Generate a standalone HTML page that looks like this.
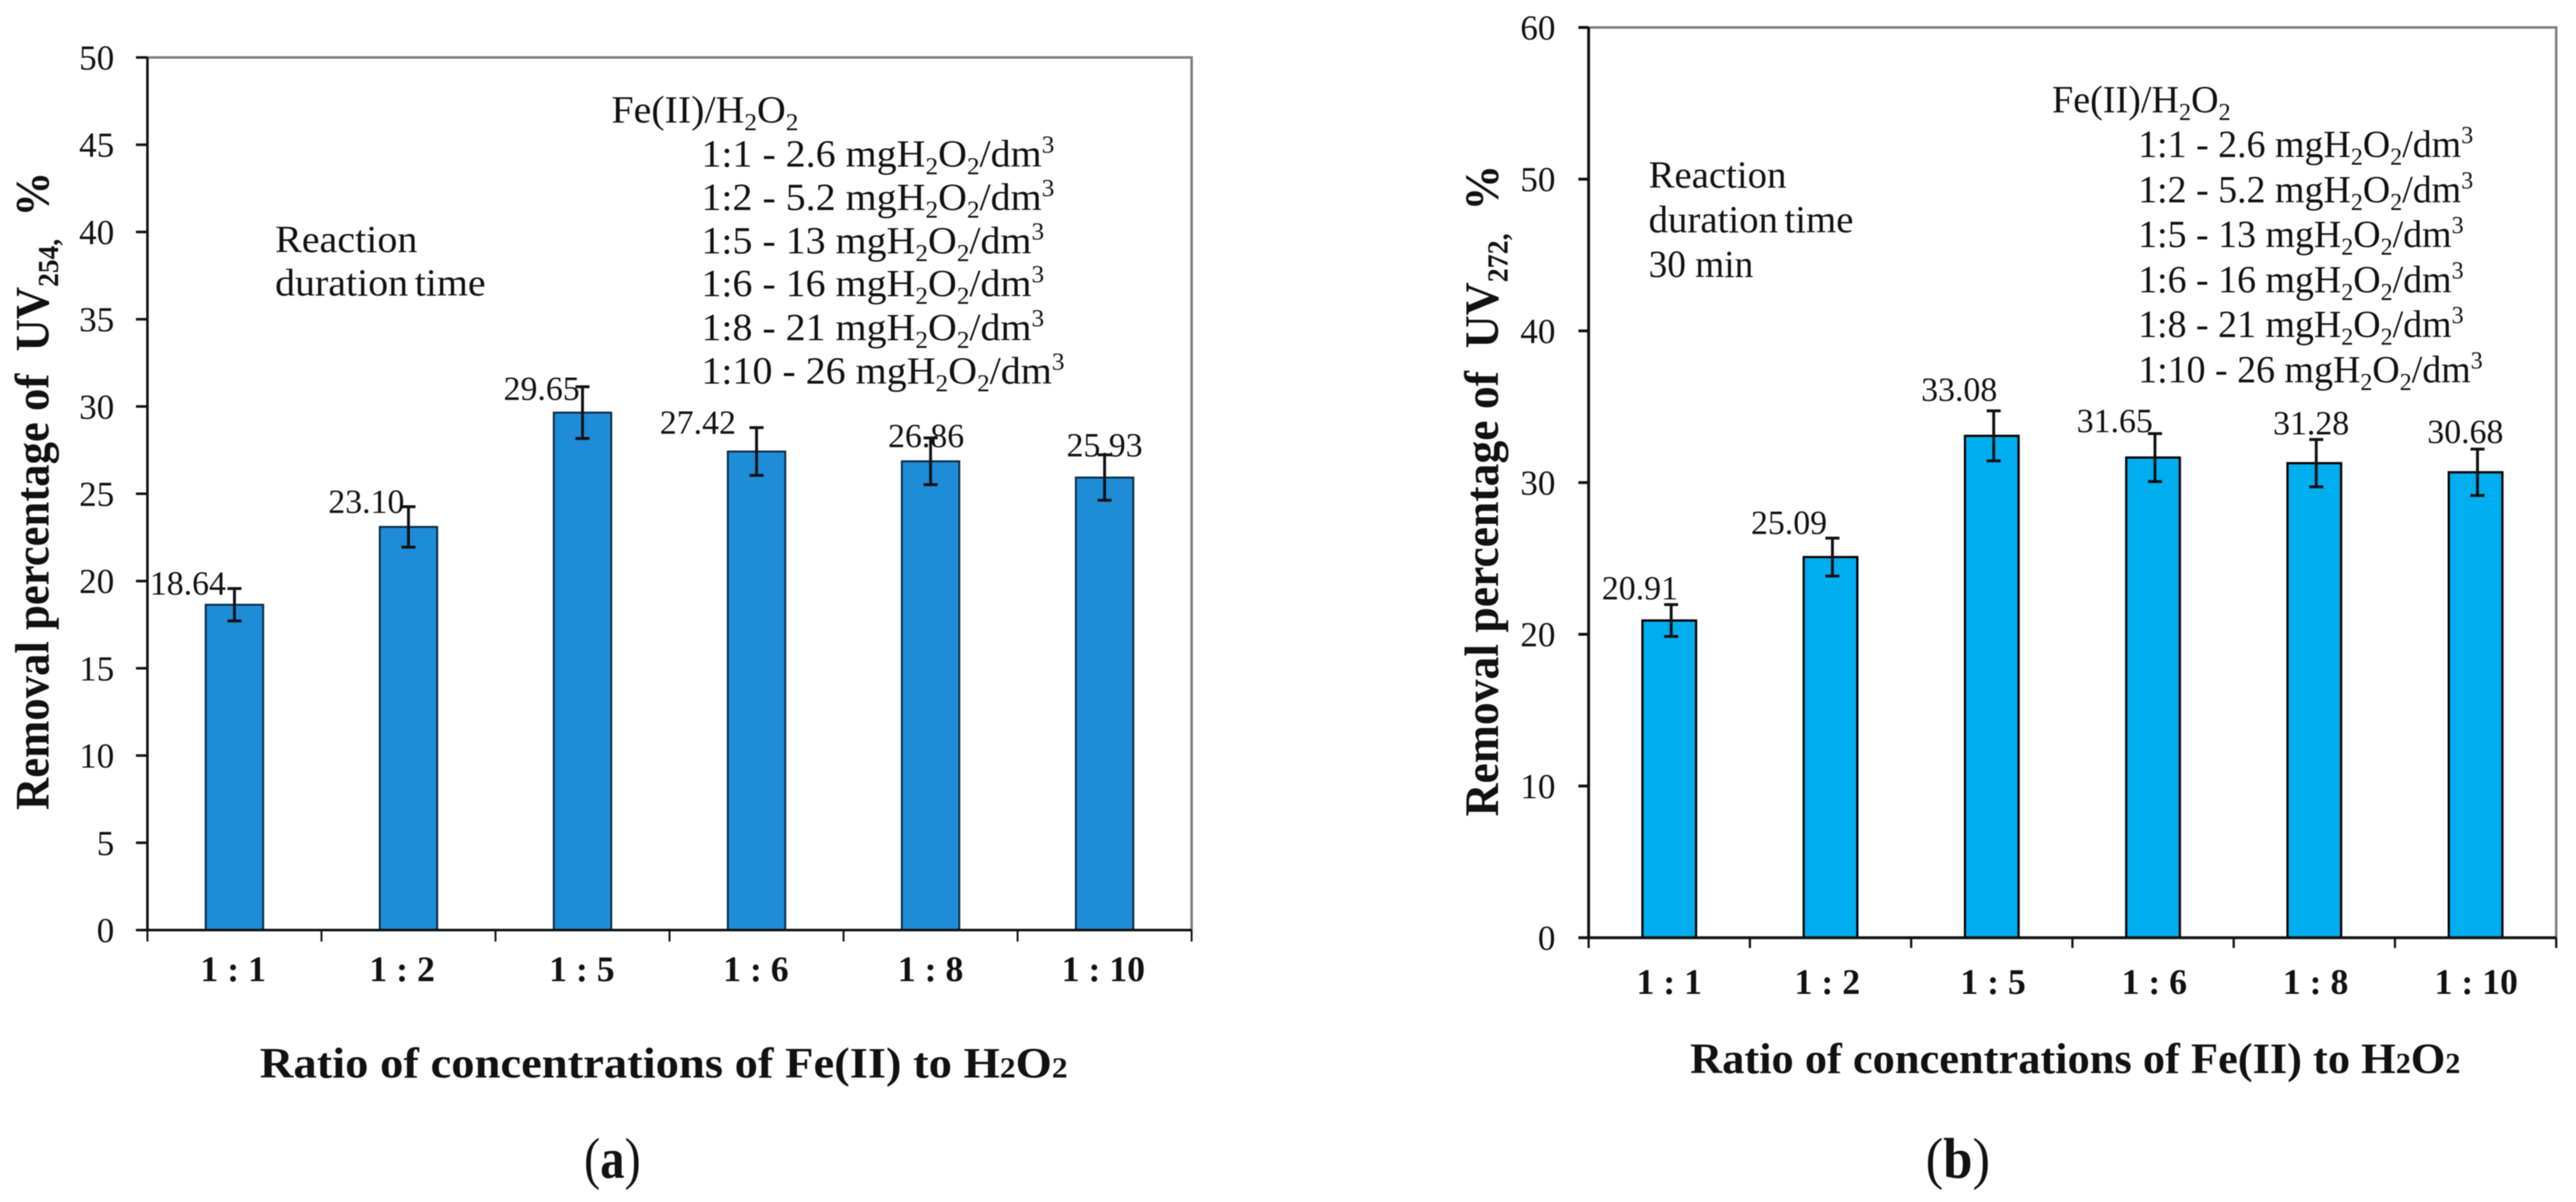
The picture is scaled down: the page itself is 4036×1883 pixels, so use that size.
<!DOCTYPE html>
<html lang="en">
<head>
<meta charset="utf-8">
<title>Removal percentage of UV254 and UV272</title>
<style>
  html, body { margin: 0; padding: 0; background: #fff; width: 4036px; height: 1883px; overflow: hidden; }
  svg { display: block; font-family: "Liberation Serif", "Times New Roman", serif; fill: #111; filter: blur(0.7px); }
  .bold { font-weight: bold; }
  .legend { font-size: 60px; }
  .narrow-space { word-spacing: -5px; }
</style>
</head>
<body>
<svg id="figure" xmlns="http://www.w3.org/2000/svg" width="4036" height="1883" viewBox="0 0 4036 1883">
  <g id="panel-a"></g>
  <g id="panel-b"></g>

  <!-- Panel a static text -->
  <g transform="translate(76 1269) rotate(-90)">
    <text class="bold fit" font-size="75" x="0" y="0" data-w="1000" xml:space="preserve">Removal percentage of  UV<tspan font-size="46" dy="15">254,</tspan><tspan dy="-15">  %</tspan></text>
  </g>
  <text class="bold fit" font-size="68" x="407" y="1688" data-w="1266">Ratio of concentrations of Fe(II) to H<tspan font-size="46">2</tspan>O<tspan font-size="46">2</tspan></text>
  <text class="fit" font-size="90" x="915" y="1845" data-w="89">(<tspan class="bold">a</tspan>)</text>

  <g>
    <text class="legend fit" x="431" y="395" data-w="223">Reaction</text>
    <text class="legend fit narrow-space" x="431" y="463" data-w="330">duration time</text>
  </g>
  <g>
    <text class="legend fit" x="958" y="192" data-w="293">Fe(II)/H<tspan font-size="38" dy="12">2</tspan><tspan dy="-12">O</tspan><tspan font-size="38" dy="12">2</tspan></text>
    <text class="legend fit" x="1099" y="261" data-w="553">1:1 - 2.6 mgH<tspan font-size="38" dy="12">2</tspan><tspan dy="-12">O</tspan><tspan font-size="38" dy="12">2</tspan><tspan dy="-12">/dm</tspan><tspan font-size="38" dy="-22">3</tspan></text>
    <text class="legend fit" x="1099" y="329" data-w="553">1:2 - 5.2 mgH<tspan font-size="38" dy="12">2</tspan><tspan dy="-12">O</tspan><tspan font-size="38" dy="12">2</tspan><tspan dy="-12">/dm</tspan><tspan font-size="38" dy="-22">3</tspan></text>
    <text class="legend fit" x="1099" y="397" data-w="537">1:5 - 13 mgH<tspan font-size="38" dy="12">2</tspan><tspan dy="-12">O</tspan><tspan font-size="38" dy="12">2</tspan><tspan dy="-12">/dm</tspan><tspan font-size="38" dy="-22">3</tspan></text>
    <text class="legend fit" x="1099" y="464" data-w="537">1:6 - 16 mgH<tspan font-size="38" dy="12">2</tspan><tspan dy="-12">O</tspan><tspan font-size="38" dy="12">2</tspan><tspan dy="-12">/dm</tspan><tspan font-size="38" dy="-22">3</tspan></text>
    <text class="legend fit" x="1099" y="533" data-w="537">1:8 - 21 mgH<tspan font-size="38" dy="12">2</tspan><tspan dy="-12">O</tspan><tspan font-size="38" dy="12">2</tspan><tspan dy="-12">/dm</tspan><tspan font-size="38" dy="-22">3</tspan></text>
    <text class="legend fit" x="1099" y="601" data-w="569">1:10 - 26 mgH<tspan font-size="38" dy="12">2</tspan><tspan dy="-12">O</tspan><tspan font-size="38" dy="12">2</tspan><tspan dy="-12">/dm</tspan><tspan font-size="38" dy="-22">3</tspan></text>
  </g>

  <!-- Panel b static text -->
  <g transform="translate(2347 1279) rotate(-90)">
    <text class="bold fit" font-size="75" x="0" y="0" data-w="1021" xml:space="preserve">Removal percentage of  UV<tspan font-size="46" dy="15">272,</tspan><tspan dy="-15">  %</tspan></text>
  </g>
  <text class="bold fit" font-size="68" x="2648" y="1681" data-w="1207">Ratio of concentrations of Fe(II) to H<tspan font-size="46">2</tspan>O<tspan font-size="46">2</tspan></text>
  <text class="fit" font-size="90" x="3017" y="1845" data-w="101">(<tspan class="bold">b</tspan>)</text>

  <g>
    <text class="legend fit" x="2583" y="294" data-w="216">Reaction</text>
    <text class="legend fit narrow-space" x="2583" y="364" data-w="321">duration time</text>
    <text class="legend fit" x="2583" y="434" data-w="164">30 min</text>
  </g>
  <g>
    <text class="legend fit" x="3215" y="176" data-w="280">Fe(II)/H<tspan font-size="38" dy="12">2</tspan><tspan dy="-12">O</tspan><tspan font-size="38" dy="12">2</tspan></text>
    <text class="legend fit" x="3350" y="246" data-w="525">1:1 - 2.6 mgH<tspan font-size="38" dy="12">2</tspan><tspan dy="-12">O</tspan><tspan font-size="38" dy="12">2</tspan><tspan dy="-12">/dm</tspan><tspan font-size="38" dy="-22">3</tspan></text>
    <text class="legend fit" x="3350" y="317" data-w="525">1:2 - 5.2 mgH<tspan font-size="38" dy="12">2</tspan><tspan dy="-12">O</tspan><tspan font-size="38" dy="12">2</tspan><tspan dy="-12">/dm</tspan><tspan font-size="38" dy="-22">3</tspan></text>
    <text class="legend fit" x="3350" y="387" data-w="510">1:5 - 13 mgH<tspan font-size="38" dy="12">2</tspan><tspan dy="-12">O</tspan><tspan font-size="38" dy="12">2</tspan><tspan dy="-12">/dm</tspan><tspan font-size="38" dy="-22">3</tspan></text>
    <text class="legend fit" x="3350" y="458" data-w="510">1:6 - 16 mgH<tspan font-size="38" dy="12">2</tspan><tspan dy="-12">O</tspan><tspan font-size="38" dy="12">2</tspan><tspan dy="-12">/dm</tspan><tspan font-size="38" dy="-22">3</tspan></text>
    <text class="legend fit" x="3350" y="528" data-w="510">1:8 - 21 mgH<tspan font-size="38" dy="12">2</tspan><tspan dy="-12">O</tspan><tspan font-size="38" dy="12">2</tspan><tspan dy="-12">/dm</tspan><tspan font-size="38" dy="-22">3</tspan></text>
    <text class="legend fit" x="3350" y="599" data-w="540">1:10 - 26 mgH<tspan font-size="38" dy="12">2</tspan><tspan dy="-12">O</tspan><tspan font-size="38" dy="12">2</tspan><tspan dy="-12">/dm</tspan><tspan font-size="38" dy="-22">3</tspan></text>
  </g>
</svg>

<script>
// ---- Chart data ----
const categories = ["1 : 1", "1 : 2", "1 : 5", "1 : 6", "1 : 8", "1 : 10"];
const valuesA = [18.64, 23.10, 29.65, 27.42, 26.86, 25.93];
const errorsA = [0.93, 1.16, 1.48, 1.37, 1.34, 1.30];
const valuesB = [20.91, 25.09, 33.08, 31.65, 31.28, 30.68];
const errorsB = [1.05, 1.25, 1.65, 1.58, 1.56, 1.53];
const yTicksA = [0, 5, 10, 15, 20, 25, 30, 35, 40, 45, 50];
const yTicksB = [0, 10, 20, 30, 40, 50, 60];

const SVG_NS = "http://www.w3.org/2000/svg";

function svgEl(tag, attrs, parent) {
  const el = document.createElementNS(SVG_NS, tag);
  for (const k in attrs) el.setAttribute(k, attrs[k]);
  parent.appendChild(el);
  return el;
}

function drawChart(cfg) {
  const root = document.getElementById(cfg.id);
  const x = function (i) { return cfg.left + (cfg.right - cfg.left) * (i + 0.5) / cfg.categories.length; };
  const edge = function (i) { return cfg.left + (cfg.right - cfg.left) * i / cfg.categories.length; };
  const y = function (v) { return cfg.bottom - (cfg.bottom - cfg.top) * v / cfg.yMax; };

  // Gray plot frame (top and right)
  const frame = svgEl("path", { d: "M" + cfg.left + " " + cfg.top + "H" + cfg.right + "V" + cfg.bottom, fill: "none", stroke: cfg.frame, "stroke-width": 4 }, root);
  
  

  // Bars
  cfg.values.forEach(function (v, i) {
    const bar = svgEl("rect", {
      x: x(i) - cfg.barWidth / 2, y: y(v), width: cfg.barWidth, height: y(0) - y(v),
      fill: cfg.color, stroke: cfg.barStroke, "stroke-width": cfg.axisWidth - 1
    }, root);
    
    
  });

  // Axes
  const yAxis = svgEl("line", { x1: cfg.left, x2: cfg.left, y1: cfg.top, y2: cfg.bottom, stroke: "#111", "stroke-width": cfg.axisWidth }, root);
  
  
  const xAxis = svgEl("line", { x1: cfg.left, x2: cfg.right, y1: cfg.bottom, y2: cfg.bottom, stroke: "#111", "stroke-width": cfg.axisWidth }, root);
  
  

  // Y ticks
  cfg.yTicks.forEach(function (t) {
    const tick = svgEl("line", { x1: cfg.left - cfg.tick, x2: cfg.left, y1: y(t), y2: y(t), stroke: "#111", "stroke-width": cfg.axisWidth }, root);
    
    
    const label = svgEl("text", { x: cfg.left - 52, y: y(t) + 19, "text-anchor": "end", "font-size": 55 }, root);
    label.textContent = t;
    
    
  });

  // X ticks and category labels
  for (let i = 0; i <= cfg.categories.length; i++) {
    const tick = svgEl("line", { x1: edge(i), x2: edge(i), y1: cfg.bottom, y2: cfg.bottom + cfg.tick, stroke: "#111", "stroke-width": cfg.axisWidth - 1 }, root);
    
    
  }
  cfg.categories.forEach(function (c, i) {
    const label = svgEl("text", { x: x(i) + cfg.catNudge[i], y: cfg.catBaseline, "text-anchor": "middle", "font-size": 56, "font-weight": "bold", "xml:space": "preserve" }, root);
    label.textContent = c;
    
    
  });

  // Error bars
  cfg.values.forEach(function (v, i) {
    const e = cfg.errors[i];
    const cx = x(i) + cfg.errNudge;
    const err = svgEl("path", {
      d: "M" + (cx - 11) + " " + y(v + e) + "H" + (cx + 11) +
         "M" + cx + " " + y(v + e) + "V" + y(v - e) +
         "M" + (cx - 11) + " " + y(v - e) + "H" + (cx + 11),
      fill: "none", stroke: "#111", "stroke-width": 4.5
    }, root);
    
    
  });

  // Value labels
  cfg.values.forEach(function (v, i) {
    const label = svgEl("text", { x: x(i) + cfg.labelDx[i], y: y(v) + cfg.labelDy[i], "text-anchor": "middle", "font-size": 53 }, root);
    label.textContent = v.toFixed(2);
    
    
  });
}

drawChart({
  id: "panel-a", categories: categories, values: valuesA, errors: errorsA, yTicks: yTicksA, yMax: 50,
  left: 231, right: 1867, top: 90, bottom: 1457,
  barWidth: 90, color: "#1f8cd8", barStroke: "#0c2a44", axisWidth: 4, tick: 18, errNudge: 0, catBaseline: 1537,
  catNudge: [-2, -10, -1, -1, 0, -2],
  labelDx: [-73, -66, -64, -92, -7, 0],
  labelDy: [-16, -22, -20, -28, -22, -33],
  frame: "#808080"
});

drawChart({
  id: "panel-b", categories: categories, values: valuesB, errors: errorsB, yTicks: yTicksB, yMax: 60,
  left: 2489, right: 4005, top: 43, bottom: 1469,
  barWidth: 84, color: "#00aeef", barStroke: "#000", axisWidth: 4.5, tick: 16, errNudge: 3, catBaseline: 1557,
  catNudge: [0, -5, 2, 2, 2, 1],
  labelDx: [-46, -65, -51, -60, -5, -16],
  labelDy: [-33, -36, -55, -40, -45, -46],
  frame: "#808080"
});

// Match the slightly condensed text widths of the reference
document.querySelectorAll("text.fit").forEach(function (t) {
  const target = parseFloat(t.getAttribute("data-w"));
  const cur = t.getComputedTextLength();
  const xPos = parseFloat(t.getAttribute("x")) || 0;
  const s = target / cur;
  t.setAttribute("transform", "translate(" + xPos + " 0) scale(" + s + " 1) translate(" + (-xPos) + " 0)");
});
</script>
</body>
</html>
